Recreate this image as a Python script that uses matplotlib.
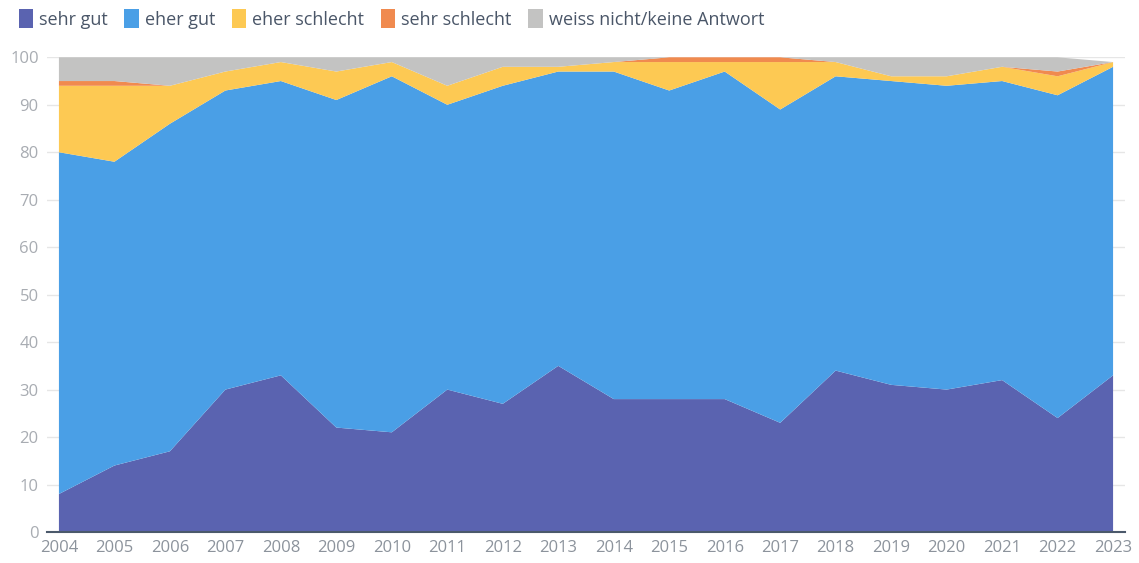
import matplotlib
matplotlib.use("Agg")
import matplotlib.pyplot as plt
from matplotlib.patches import Patch

years = list(range(2004, 2024))
sehr_gut = [8, 14, 17, 30, 33, 22, 21, 30, 27, 35, 28, 28, 28, 23, 34, 31, 30, 32, 24, 33]
eher_gut = [72, 64, 69, 63, 62, 69, 75, 60, 67, 62, 69, 65, 69, 66, 62, 64, 64, 63, 68, 65]
eher_schlecht = [14, 16, 8, 4, 4, 6, 3, 4, 4, 1, 2, 6, 2, 10, 3, 1, 2, 3, 4, 1]
sehr_schlecht = [1, 1, 0, 0, 0, 0, 0, 0, 0, 0, 0, 1, 1, 1, 0, 0, 0, 0, 1, 0]
weiss_nicht = [5, 5, 6, 3, 1, 3, 1, 6, 2, 2, 1, 0, 0, 0, 1, 4, 4, 2, 3, 0]

labels = ["sehr gut", "eher gut", "eher schlecht", "sehr schlecht", "weiss nicht/keine Antwort"]
colors = ["#5a63b0", "#4a9fe6", "#fdc953", "#f08a4f", "#c3c3c2"]
yticks = [0, 10, 20, 30, 40, 50, 60, 70, 80, 90, 100]

plt.rcParams["font.family"] = ["Open Sans", "DejaVu Sans"]

fig = plt.figure(figsize=(11.39, 5.63), dpi=100)
ax = fig.add_axes([47 / 1139, 1 - 532 / 563, (1125 - 47) / 1139, (532 - 57.3) / 563])

ax.stackplot(years, sehr_gut, eher_gut, eher_schlecht, sehr_schlecht, weiss_nicht,
             colors=colors, linewidth=0, zorder=2)

ax.set_xlim(2004 - 0.215, 2023 + 0.215)
ax.set_ylim(0, 100)
ax.set_xticks(years)
ax.set_xticklabels([str(y) for y in years])
ax.set_yticks(yticks)

ax.grid(axis="y", color="#e6e6e6", linewidth=1, zorder=0)
for s in ["top", "right", "left"]:
    ax.spines[s].set_visible(False)
ax.spines["bottom"].set_color("#4b596b")
ax.spines["bottom"].set_linewidth(1.5)
ax.spines["bottom"].set_zorder(3)
ax.tick_params(axis="both", length=0, labelsize=12)
ax.tick_params(axis="y", pad=6, colors="#a8acb2")
ax.tick_params(axis="x", pad=6, colors="#8c939c")

handles = [Patch(facecolor=c, edgecolor="none") for c in colors]
fig.legend(handles, labels, loc="upper left", bbox_to_anchor=(0.002, 1.012), ncol=5,
           frameon=False, fontsize=13, handlelength=0.8, handleheight=1.2,
           handletextpad=0.35, columnspacing=0.9, labelcolor="#4a5668")

fig.savefig("out.png", dpi=100)
